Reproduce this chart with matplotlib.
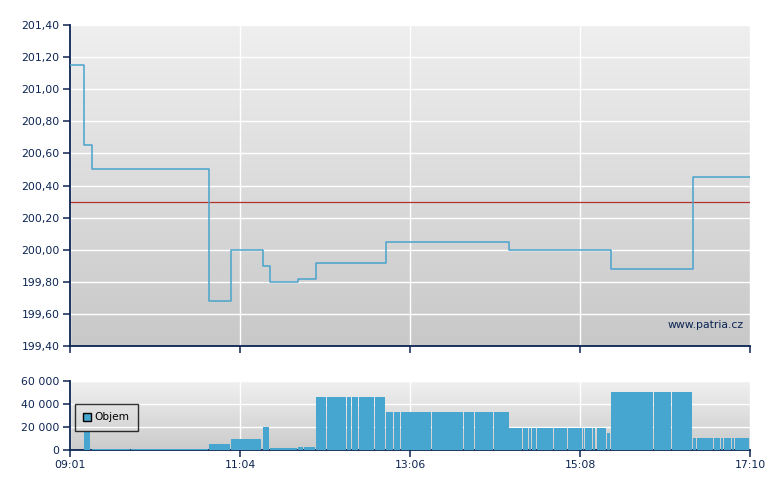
import numpy as np
import matplotlib
matplotlib.use("Agg")
import matplotlib.pyplot as plt
from matplotlib.colors import LinearSegmentedColormap

# ---- data ----
price_times = ["09:01", "09:11", "09:17", "10:41", "10:57", "11:20", "11:25",
               "11:45", "11:58", "12:48", "14:17", "15:30", "16:29"]
price_values = [201.15, 200.65, 200.50, 199.68, 200.00, 199.90, 199.80,
                199.82, 199.92, 200.05, 200.00, 199.88, 200.45]
ref_price = 200.30

vol_times = ["09:11", "09:16", "09:17", "09:45", "10:41", "10:57", "11:19", "11:20",
             "11:25", "11:45", "11:49", "11:58", "12:06", "12:20", "12:24", "12:29",
             "12:40", "12:48", "12:54", "12:59", "13:21", "13:31", "13:44", "13:52",
             "13:59", "14:04", "14:06", "14:17", "14:27", "14:31", "14:33", "14:35",
             "14:37", "14:49", "14:59", "15:10", "15:11", "15:16", "15:17", "15:19",
             "15:20", "15:27", "15:30", "15:57", "16:01", "16:14", "16:29", "16:32",
             "16:44", "16:49", "16:51", "16:57", "16:59", "17:06"]
vol_values = [15500, 15500, 1000, 1000, 5200, 9500, 9500, 20000,
              1800, 2600, 2600, 46500, 46500, 46500, 46500, 46500,
              46500, 33000, 33000, 33000, 33000, 33000, 33000, 33000,
              33000, 33000, 33000, 19500, 19500, 19500, 19500, 19500,
              19500, 19500, 19500, 19500, 19500, 19500, 19500, 19500,
              19500, 15000, 50500, 50500, 50500, 50500, 10500, 10500,
              10500, 10500, 10500, 10500, 10500, 10500]

session_start = "09:01"
session_end = "17:10"
x_tick_labels = ["09:01", "11:04", "13:06", "15:08", "17:10"]
price_ticks = [199.40, 199.60, 199.80, 200.00, 200.20, 200.40, 200.60, 200.80, 201.00, 201.20, 201.40]
vol_ticks = [0, 20000, 40000, 60000]


def to_min(s):
    h, m = s.split(":")
    return int(h) * 60 + int(m)


t0, t1 = to_min(session_start), to_min(session_end)
pt = np.array([to_min(s) for s in price_times] + [t1], dtype=float)
pv = np.array(price_values + [price_values[-1]])
vt = np.array([to_min(s) for s in vol_times] + [t1], dtype=float)
vv = np.array(vol_values, dtype=float)
xticks = np.linspace(t0, t1, len(x_tick_labels))

navy = "#0b2452"
line_blue = "#4aa3cc"
bar_blue = "#46a6cf"

fig = plt.figure(figsize=(7.8, 4.9), dpi=100)
ax1 = fig.add_axes([70 / 780, 1 - 346 / 490, 680 / 780, 321 / 490])
ax2 = fig.add_axes([70 / 780, 1 - 450 / 490, 680 / 780, 69 / 490])


def gradient(ax, top, bottom):
    cmap = LinearSegmentedColormap.from_list("g", [bottom, top])
    grad = np.linspace(0, 1, 256).reshape(-1, 1)
    ax.imshow(grad, extent=[0, 1, 0, 1], transform=ax.transAxes, cmap=cmap,
              aspect="auto", origin="lower", zorder=0, interpolation="bilinear")


def style(ax):
    for s in ("top", "right"):
        ax.spines[s].set_visible(False)
    for s in ("left", "bottom"):
        ax.spines[s].set_color(navy)
        ax.spines[s].set_linewidth(1.3)
    ax.tick_params(axis="both", colors=navy, labelcolor=navy, length=5, width=1.1,
                   labelsize=7.8, direction="out", pad=2.5)
    ax.set_axisbelow(True)


# ---- price panel ----
gradient(ax1, "#efefef", "#c8c8c8")
style(ax1)
ax1.step(pt, pv, where="post", color=line_blue, lw=1.1, zorder=3)
ax1.axhline(ref_price, color="#b0302a", lw=0.9, zorder=2)
ax1.set_xlim(t0, t1)
ax1.set_ylim(price_ticks[0], price_ticks[-1])
ax1.set_yticks(price_ticks)
ax1.set_yticklabels([f"{v:.2f}".replace(".", ",") for v in price_ticks])
ax1.set_xticks(xticks)
ax1.set_xticklabels([])
ax1.grid(True, color="white", lw=1.0, zorder=1)
ax1.text(0.99, 0.065, "www.patria.cz", transform=ax1.transAxes, ha="right", va="center",
         fontsize=7.8, color=navy, zorder=4)

# ---- volume panel ----
gradient(ax2, "#f0f0f0", "#cbcbcb")
style(ax2)
widths = np.diff(vt) - 0.6
ax2.bar(vt[:-1], vv, width=widths, align="edge", color=bar_blue, lw=0, zorder=3,
        label="Objem")
ax2.set_xlim(t0, t1)
ax2.set_ylim(0, 60000)
ax2.set_yticks(vol_ticks)
ax2.set_yticklabels([f"{v:,}".replace(",", " ") for v in vol_ticks])
ax2.set_xticks(xticks)
ax2.set_xticklabels(x_tick_labels)
ax2.grid(True, color="white", lw=1.0, zorder=1)
leg = ax2.legend(loc="upper left", bbox_to_anchor=(0.007, 0.667), frameon=True,
                 fontsize=7.6, handlelength=0.75, handleheight=0.75, handletextpad=0.3,
                 borderpad=0.8, borderaxespad=0, fancybox=False)
leg.get_frame().set_facecolor("none")
leg.get_frame().set_edgecolor("black")
leg.get_frame().set_linewidth(1.0)
for h in leg.legend_handles:
    h.set_edgecolor("black")
    h.set_linewidth(1.0)
leg.set_zorder(5)

fig.savefig("out.png", dpi=100)
